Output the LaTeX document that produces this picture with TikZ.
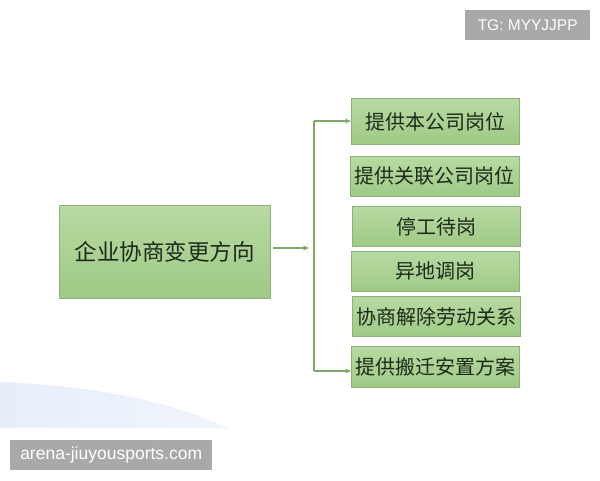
\documentclass[tikz,border=0pt]{standalone}
\usepackage{fontspec}
\setmainfont{Liberation Sans}
\newfontfamily\cjk{Noto Sans CJK SC}
\usetikzlibrary{arrows.meta}
\definecolor{boxtop}{HTML}{B7DAA2}
\definecolor{boxbot}{HTML}{9FC986}
\definecolor{boxline}{HTML}{8BB27A}
\definecolor{conn}{HTML}{7FA86A}
\definecolor{txt}{HTML}{1C2A1A}
\definecolor{wm}{HTML}{A9A9A9}
\definecolor{blob}{HTML}{E6EEFA}
\definecolor{blobr}{HTML}{F1F5FC}
\tikzset{
  gbox/.style={draw=boxline, line width=0.8pt, top color=boxtop, bottom color=boxbot,
    text=txt, inner sep=0pt, font=\cjk\fontsize{20}{20}\selectfont, anchor=north west},
  conline/.style={draw=conn, line width=1.6pt},
  conarrow/.style={conline, -{Stealth[length=6pt,width=5pt]}},
  wmbox/.style={fill=wm, text=white, inner sep=0pt, anchor=north west}
}
\begin{document}
\begin{tikzpicture}[x=1pt,y=-1pt]
\useasboundingbox (0,0) rectangle (600,480);
\fill[white] (0,0) rectangle (600,480);
% light blue blob
\shade[left color=blob, right color=blobr] (0,382) .. controls (90,386) and (170,400) .. (228,428) -- (0,428) -- cycle;
% watermarks
\node[wmbox, minimum width=125pt, minimum height=30pt, font=\fontsize{15.5}{15.5}\selectfont] (tg) at (465,10) {TG: MYYJJPP};
\node[wmbox, minimum width=202pt, minimum height=30pt, font=\fontsize{17.5}{17.5}\selectfont] (site) at (10,440) {arena-jiuyousports.com};
% left box
\node[gbox, minimum width=211pt, minimum height=93pt, font=\cjk\fontsize{22.5}{22.5}\selectfont] (main) at (59,205) {企业协商变更方向};
% right boxes
\node[gbox, minimum width=168pt, minimum height=46pt] (b1) at (351,98) {提供本公司岗位};
\node[gbox, minimum width=169pt, minimum height=40pt] (b2) at (350,156) {提供关联公司岗位};
\node[gbox, minimum width=168pt, minimum height=40pt] (b3) at (352,206) {停工待岗};
\node[gbox, minimum width=168pt, minimum height=40pt] (b4) at (351,251) {异地调岗};
\node[gbox, minimum width=168pt, minimum height=40pt] (b5) at (352,296) {协商解除劳动关系};
\node[gbox, minimum width=168pt, minimum height=41pt] (b6) at (351,346) {提供搬迁安置方案};
% connectors
\coordinate (mid) at (309,248);
\coordinate (vtop) at (314,121);
\coordinate (vbot) at (314,371);
\draw[conarrow] (main.east |- mid) ++(2,0) -- (mid);
\draw[conline] (vtop) -- (vbot);
\draw[conarrow] (vtop) -- (vtop -| b1.west);
\draw[conarrow] (vbot) -- (vbot -| b6.west);
\end{tikzpicture}
\end{document}
